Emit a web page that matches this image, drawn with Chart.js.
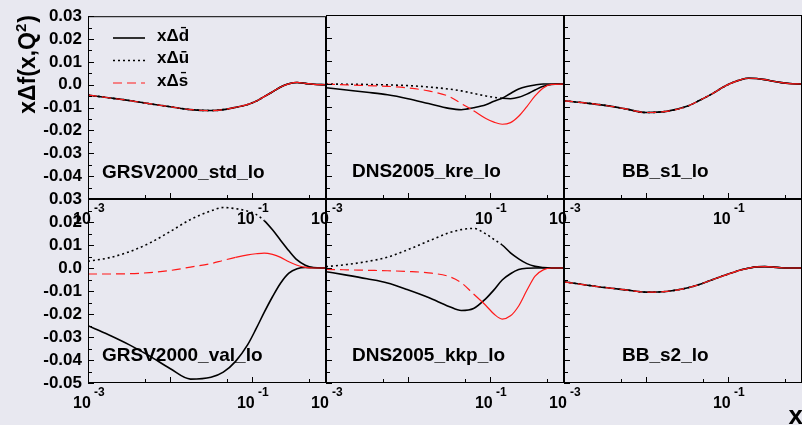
<!DOCTYPE html>
<html>
<head>
<meta charset="utf-8">
<script src="https://cdn.jsdelivr.net/npm/chart.js@4.4.0/dist/chart.umd.min.js"></script>
<style>
  html, body { margin: 0; padding: 0; background: #e8e8f0; }
  #page { position: relative; width: 802px; height: 425px; overflow: hidden; background: #e8e8f0; }
  #page canvas { position: absolute; left: 0; top: 0; }
</style>
</head>
<body>
<div id="page">
  <canvas id="panel0" width="802" height="425"></canvas>
  <canvas id="panel1" width="802" height="425"></canvas>
  <canvas id="panel2" width="802" height="425"></canvas>
  <canvas id="panel3" width="802" height="425"></canvas>
  <canvas id="panel4" width="802" height="425"></canvas>
  <canvas id="panel5" width="802" height="425"></canvas>
</div>
<script>
// x grid shared by all panels (log spaced)
const xValues = [0.001, 0.00178, 0.00316, 0.00562, 0.01, 0.0178, 0.0316, 0.0447, 0.0631, 0.0891,
                 0.112, 0.141, 0.178, 0.224, 0.282, 0.355, 0.447, 0.562, 0.794];

const seriesLabels = ['xΔd\u0304', 'xΔu\u0304', 'xΔs\u0304'];
const panelNames = ['GRSV2000_std_lo', 'DNS2005_kre_lo', 'BB_s1_lo',
                    'GRSV2000_val_lo', 'DNS2005_kkp_lo', 'BB_s2_lo'];
const yLabelTicks = [0.03, 0.02, 0.01, 0.0, -0.01, -0.02, -0.03, -0.04, -0.05];
const xLabelTicks = [0.001, 0.1];
const xTickMarks = [0.005, 0.01, 0.05, 0.1, 0.5];

// GRSV2000_std_lo : all three sea quarks equal
const grsvStdDbar = [-0.0045, -0.0057, -0.0069, -0.0083, -0.0096, -0.0109, -0.0113, -0.0109, -0.0099, -0.0086,
                     -0.0072, -0.0052, -0.0031, -0.0010, 0.0004, 0.0010, 0.0006, 0.0002, 0.0];
const grsvStdUbar = [-0.0045, -0.0057, -0.0069, -0.0083, -0.0096, -0.0109, -0.0113, -0.0109, -0.0099, -0.0086,
                     -0.0072, -0.0052, -0.0031, -0.0010, 0.0004, 0.0010, 0.0006, 0.0002, 0.0];
const grsvStdSbar = [-0.0045, -0.0057, -0.0069, -0.0083, -0.0096, -0.0109, -0.0113, -0.0109, -0.0099, -0.0086,
                     -0.0072, -0.0052, -0.0031, -0.0010, 0.0004, 0.0010, 0.0006, 0.0002, 0.0];

// DNS2005_kre_lo
const dnsKreDbar = [-0.0016, -0.0026, -0.0036, -0.0047, -0.0064, -0.0085, -0.0106, -0.0112, -0.0103, -0.0090,
                    -0.0075, -0.0062, -0.0041, -0.0022, -0.0011, -0.0004, 0.0, 0.0, 0.0];
const dnsKreUbar = [0.0, -0.0001, -0.0002, -0.0004, -0.0007, -0.0013, -0.0022, -0.0030, -0.0041, -0.0052,
                    -0.0058, -0.0062, -0.0064, -0.0058, -0.0044, -0.0026, -0.0010, -0.0002, 0.0];
const dnsKreSbar = [0.0, -0.0004, -0.0007, -0.0010, -0.0017, -0.0030, -0.0054, -0.0085, -0.0116, -0.0150,
                    -0.0166, -0.0175, -0.0168, -0.0140, -0.0098, -0.0052, -0.0017, -0.0002, 0.0];

// BB_s1_lo : all equal
const bbS1Dbar = [-0.0073, -0.0082, -0.0093, -0.0108, -0.0124, -0.0119, -0.0097, -0.0072, -0.0044, -0.0012,
                  0.0005, 0.0018, 0.0025, 0.0024, 0.0019, 0.0012, 0.0006, 0.0002, 0.0];
const bbS1Ubar = [-0.0073, -0.0082, -0.0093, -0.0108, -0.0124, -0.0119, -0.0097, -0.0072, -0.0044, -0.0012,
                  0.0005, 0.0018, 0.0025, 0.0024, 0.0019, 0.0012, 0.0006, 0.0002, 0.0];
const bbS1Sbar = [-0.0073, -0.0082, -0.0093, -0.0108, -0.0124, -0.0119, -0.0097, -0.0072, -0.0044, -0.0012,
                  0.0005, 0.0018, 0.0025, 0.0024, 0.0019, 0.0012, 0.0006, 0.0002, 0.0];

// GRSV2000_val_lo
const grsvValDbar = [-0.0251, -0.0290, -0.0333, -0.0382, -0.0437, -0.0483, -0.0475, -0.0453, -0.0406, -0.0332,
                     -0.0265, -0.0193, -0.0125, -0.0065, -0.0022, -0.0003, 0.0002, 0.0001, 0.0];
const grsvValUbar = [0.0029, 0.0044, 0.0070, 0.0108, 0.0158, 0.0211, 0.0248, 0.0263, 0.0258, 0.0247,
                     0.0233, 0.0206, 0.0166, 0.0120, 0.0075, 0.0035, 0.0012, 0.0002, 0.0];
const grsvValSbar = [-0.0026, -0.0026, -0.0025, -0.0020, -0.0011, 0.0004, 0.0019, 0.0033, 0.0046, 0.0057,
                     0.0062, 0.0065, 0.0059, 0.0046, 0.0027, 0.0012, 0.0003, 0.0, 0.0];

// DNS2005_kkp_lo
const dnsKkpDbar = [-0.0016, -0.0031, -0.0047, -0.0065, -0.0095, -0.0128, -0.0167, -0.0185, -0.0176, -0.0133,
                    -0.0095, -0.0052, -0.0025, -0.0007, -0.0001, 0.0, 0.0, 0.0, 0.0];
const dnsKkpUbar = [0.0006, 0.0015, 0.0028, 0.0047, 0.0080, 0.0117, 0.0153, 0.0167, 0.0172, 0.0148,
                    0.0124, 0.0100, 0.0066, 0.0040, 0.0019, 0.0007, 0.0002, 0.0, 0.0];
const dnsKkpSbar = [-0.0006, -0.0008, -0.0010, -0.0012, -0.0015, -0.0021, -0.0037, -0.0064, -0.0113, -0.0163,
                    -0.0200, -0.0222, -0.0208, -0.0165, -0.0097, -0.0035, -0.0008, 0.0, 0.0];

// BB_s2_lo : all equal
const bbS2Dbar = [-0.0060, -0.0073, -0.0085, -0.0095, -0.0105, -0.0102, -0.0087, -0.0072, -0.0052, -0.0033,
                  -0.0021, -0.0009, -0.0001, 0.0005, 0.0006, 0.0004, 0.0001, 0.0, 0.0];
const bbS2Ubar = [-0.0060, -0.0073, -0.0085, -0.0095, -0.0105, -0.0102, -0.0087, -0.0072, -0.0052, -0.0033,
                  -0.0021, -0.0009, -0.0001, 0.0005, 0.0006, 0.0004, 0.0001, 0.0, 0.0];
const bbS2Sbar = [-0.0060, -0.0073, -0.0085, -0.0095, -0.0105, -0.0102, -0.0087, -0.0072, -0.0052, -0.0033,
                  -0.0021, -0.0009, -0.0001, 0.0005, 0.0006, 0.0004, 0.0001, 0.0, 0.0];

const panelSeries = [
    [grsvStdDbar, grsvStdUbar, grsvStdSbar],
    [dnsKreDbar, dnsKreUbar, dnsKreSbar],
    [bbS1Dbar, bbS1Ubar, bbS1Sbar],
    [grsvValDbar, grsvValUbar, grsvValSbar],
    [dnsKkpDbar, dnsKkpUbar, dnsKkpSbar],
    [bbS2Dbar, bbS2Ubar, bbS2Sbar],
];

// layout of the pads (pixels)
const W = 802, H = 425;
const frameLeft = [88, 326, 564];
const frameTop = [15, 199];
const frameW = 238, frameH = 184;
const nameOffsetX = [14, 26, 58];
const FONT = '"Liberation Sans", Arial, Helvetica, sans-serif';

// line styles for d-bar, u-bar, s-bar
const lineStyles = [
    { color: '#000000', width: 1.6, dash: [], solidFrom: null },
    { color: '#000000', width: 1.6, dash: [2, 3], solidFrom: 0.12 },
    { color: '#ff1a1a', width: 1.2, dash: [9, 5], solidFrom: 0.05 },
];

function line(ctx, x1, y1, x2, y2) {
    ctx.beginPath();
    ctx.moveTo(x1, y1);
    ctx.lineTo(x2, y2);
    ctx.stroke();
}

// ROOT-like frame, inward ticks, exponent labels, pad name, legend and titles
const rootFrame = {
    id: 'rootFrame',
    afterDraw(chart, args, opts) {
        const { ctx, chartArea: a } = chart;
        const x = chart.scales.x, y = chart.scales.y;
        ctx.save();
        ctx.strokeStyle = '#000';
        ctx.fillStyle = '#000';
        ctx.lineWidth = 1;
        ctx.setLineDash([]);
        ctx.strokeRect(a.left + 0.5, a.top + 0.5, a.width - 1, a.height - 1);

        // y ticks every 0.005, pointing inward
        for (let k = 0; k <= 16; k++) {
            const v = -0.05 + k * 0.005;
            const py = Math.round(y.getPixelForValue(v)) + 0.5;
            line(ctx, a.left, py, a.left + (k % 2 === 0 ? 6 : 4), py);
        }
        // x ticks on the bottom edge, pointing up
        xTickMarks.forEach(v => {
            const px = Math.round(x.getPixelForValue(v)) + 0.5;
            const major = Math.abs(Math.log10(v) - Math.round(Math.log10(v))) < 1e-6;
            line(ctx, px, a.bottom, px, a.bottom - (major ? 6 : 4));
        });
        // x labels 10^n
        xLabelTicks.forEach(v => {
            const px = x.getPixelForValue(v);
            const exp = String(Math.round(Math.log10(v)));
            ctx.textAlign = 'left';
            ctx.textBaseline = 'alphabetic';
            ctx.font = 'bold 16px ' + FONT;
            ctx.fillText('10', px - 15, a.bottom + 25);
            ctx.font = 'bold 12px ' + FONT;
            ctx.fillText(exp, px + 6, a.bottom + 12.5);
        });
        // pad name
        ctx.font = 'bold 19px ' + FONT;
        ctx.textAlign = 'left';
        ctx.fillText(opts.name, a.left + opts.nameX, a.top + 162);

        if (opts.legend) {
            chart.data.datasets.forEach((ds, i) => {
                const st = lineStyles[i];
                const ly = 38 + i * 22.5;
                ctx.strokeStyle = st.color;
                ctx.lineWidth = st.width;
                ctx.setLineDash(st.dash);
                line(ctx, 113, ly, 145, ly);
                ctx.setLineDash([]);
                ctx.font = 'bold 17px ' + FONT;
                ctx.fillStyle = '#000';
                ctx.fillText(ds.label, 157, ly + 2.5);
            });
        }
        if (opts.yTitle) {
            ctx.save();
            ctx.translate(35, 15);
            ctx.rotate(-Math.PI / 2);
            ctx.font = 'bold 23px ' + FONT;
            const main = 'xΔf(x,Q';
            const wMain = ctx.measureText(main).width;
            const wClose = ctx.measureText(')').width;
            ctx.font = 'bold 15px ' + FONT;
            const wSup = ctx.measureText('2').width;
            let cx = -(wMain + wSup + wClose + 1);
            ctx.textAlign = 'left';
            ctx.font = 'bold 23px ' + FONT;
            ctx.fillText(main, cx, 0);
            cx += wMain;
            ctx.font = 'bold 15px ' + FONT;
            ctx.fillText('2', cx, -9);
            cx += wSup + 1;
            ctx.font = 'bold 23px ' + FONT;
            ctx.fillText(')', cx, 0);
            ctx.restore();
        }
        if (opts.xTitle) {
            ctx.font = 'bold 26px ' + FONT;
            ctx.textAlign = 'right';
            ctx.fillText('x', 803, 424);
        }
        ctx.restore();
    }
};

function makePanel(i) {
    const row = Math.floor(i / 3), col = i % 3;
    const left = frameLeft[col], top = frameTop[row];
    // the left pads carry a y axis box that fills the margin
    const axisWidth = col === 0 ? left : 0;
    const series = panelSeries[i];
    const datasets = series.map((vals, s) => {
        const st = lineStyles[s];
        return {
            label: seriesLabels[s],
            data: xValues.map((xv, k) => ({ x: xv, y: vals[k] })),
            borderColor: st.color,
            borderWidth: st.width,
            borderDash: st.dash,
            pointRadius: 0,
            fill: false,
            cubicInterpolationMode: 'monotone',
            order: 3 - s,
            segment: {
                borderDash: ctx => (st.solidFrom !== null && ctx.p0.parsed.x >= st.solidFrom) ? [] : undefined,
            },
        };
    });
    return new Chart(document.getElementById('panel' + i).getContext('2d'), {
        type: 'line',
        data: { datasets },
        options: {
            responsive: false,
            animation: false,
            events: [],
            layout: {
                padding: { left: left - axisWidth, top: top, right: W - left - frameW, bottom: H - top - frameH },
            },
            plugins: {
                legend: { display: false },
                tooltip: { enabled: false },
                rootFrame: {
                    name: panelNames[i],
                    nameX: nameOffsetX[col],
                    legend: i === 0,
                    yTitle: i === 0,
                    xTitle: i === 5,
                },
            },
            scales: {
                x: {
                    type: 'logarithmic',
                    min: 0.001,
                    max: 0.8,
                    display: false,
                },
                y: {
                    type: 'linear',
                    min: -0.05,
                    max: 0.03,
                    display: col === 0,
                    afterFit: s => { s.width = axisWidth; },
                    border: { display: false },
                    grid: { display: false, drawTicks: false },
                    afterBuildTicks: s => { s.ticks = yLabelTicks.map(v => ({ value: v })); },
                    ticks: {
                        autoSkip: false,
                        padding: 6,
                        color: '#000',
                        font: { family: FONT, size: 17, weight: 'bold' },
                        callback: v => {
                            const r = Math.round(v * 100) / 100;
                            if (row === 0 && r === -0.05) return '';
                            return r === 0 ? '0.0' : r.toFixed(2);
                        },
                    },
                },
            },
        },
        plugins: [rootFrame],
    });
}

for (let i = 0; i < 6; i++) {
    makePanel(i);
}
</script>
</body>
</html>
